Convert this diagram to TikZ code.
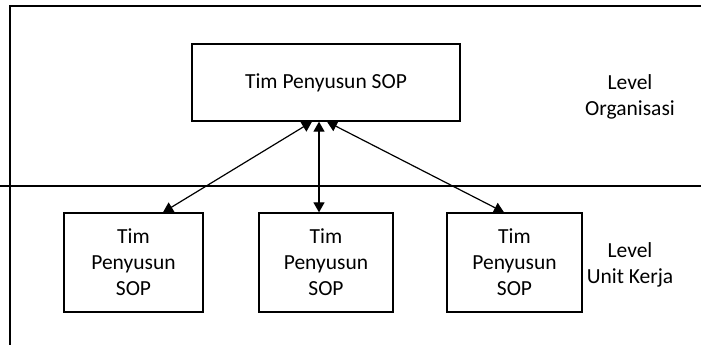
\documentclass[tikz,border=0pt]{standalone}
\usepackage{fontspec}
\setmainfont{Carlito}
\usetikzlibrary{arrows.meta}
\begin{document}
\begin{tikzpicture}[x=1pt,y=-1pt,
  boxnode/.style={draw,line width=1.3pt,inner sep=0pt,align=center,font=\fontsize{21.5}{26}\selectfont},
  lbl/.style={align=center,font=\fontsize{21.5}{26}\selectfont,inner sep=0pt},
  link/.style={line width=1.2pt,{Triangle[length=10pt,width=11pt]}-{Triangle[length=10pt,width=11pt]}}]
\useasboundingbox (0,0) rectangle (701,345);
% frame
\draw[line width=1.3pt] (701,6) -- (10,6) -- (10,345);
\draw[line width=1.3pt] (0,186) -- (701,186);
% boxes
\node[boxnode,minimum width=268pt,minimum height=77pt] (top) at (326,82.5) {Tim Penyusun SOP};
\node[boxnode,minimum width=139pt,minimum height=99pt] (b1) at (133.5,262.5) {Tim\\Penyusun\\SOP};
\node[boxnode,minimum width=134pt,minimum height=99pt] (b2) at (326,262.5) {Tim\\Penyusun\\SOP};
\node[boxnode,minimum width=135pt,minimum height=99pt] (b3) at (514.5,262.5) {Tim\\Penyusun\\SOP};
% labels
\node[lbl] (l1) at (630,97) {Level\\Organisasi};
\node[lbl] (l2) at (630,265) {Level\\Unit Kerja};
% connectors
\coordinate (t1) at ([xshift=-14pt]top.south);
\coordinate (t2) at ([xshift=-7pt]top.south);
\coordinate (t3) at ([xshift=1pt]top.south);
\draw[link] (t1) -- (b1.north -| 163,0);
\draw[link] (t2) -- (b2.north -| 319,0);
\draw[link] (t3) -- (b3.north -| 504,0);
\end{tikzpicture}
\end{document}
